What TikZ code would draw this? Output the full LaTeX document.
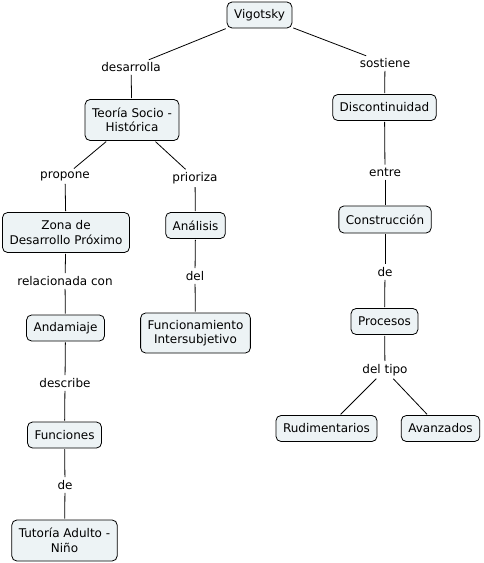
\documentclass[tikz,border=0pt]{standalone}
\usepackage{fontspec}
\setmainfont{DejaVu Sans}
\definecolor{cfill}{HTML}{EDF3F5}
\begin{document}
\begin{tikzpicture}[x=1pt,y=-1pt,
  font=\fontsize{12}{14.5}\selectfont,
  concept/.style={draw=black, line width=0.8pt, fill=cfill, rounded corners=5pt, inner xsep=7pt, inner ysep=3pt, minimum height=26pt, align=center},
  lbl/.style={inner sep=2pt, align=center},
  conn/.style={line width=0.8pt, shorten <=1pt, shorten >=1pt}]
\useasboundingbox (0,0) rectangle (484,563);
% concepts
\node[concept] (vig) at (259.5,15) {Vigotsky};
\node[concept, minimum height=41pt] (teo) at (132,120) {Teoría Socio -\\Histórica};
\node[concept] (dis) at (384.5,107.5) {Discontinuidad};
\node[concept, minimum height=40pt] (zon) at (66,232.5) {Zona de\\Desarrollo Próximo};
\node[concept] (ana) at (195.5,225.5) {Análisis};
\node[concept, minimum height=27pt] (con) at (385,219.5) {Construcción};
\node[concept] (and) at (65.5,328) {Andamiaje};
\node[concept, minimum height=40pt] (fun) at (195.5,333) {Funcionamiento\\Intersubjetivo};
\node[concept] (pro) at (384.5,321.5) {Procesos};
\node[concept] (rud) at (326.5,428.5) {Rudimentarios};
\node[concept] (ava) at (440.5,428.5) {Avanzados};
\node[concept] (fnc) at (64.5,435) {Funciones};
\node[concept, minimum height=41pt] (tut) at (64.5,540.5) {Tutoría Adulto -\\Niño};
% labels
\node[lbl] (l1) at (131,67) {desarrolla};
\node[lbl] (l2) at (385,63) {sostiene};
\node[lbl] (l3) at (65,176) {propone};
\node[lbl] (l4) at (195,178) {prioriza};
\node[lbl] (l5) at (385,172) {entre};
\node[lbl] (l6) at (65,281) {relacionada con};
\node[lbl] (l7) at (195,276) {del};
\node[lbl] (l8) at (385,272) {de};
\node[lbl] (l9) at (65,383) {describe};
\node[lbl] (l10) at (385,370) {del tipo};
\node[lbl] (l11) at (65,485) {de};
% connectors
\draw[conn] (vig) -- (l1);
\draw[conn] (l1) -- (teo);
\draw[conn] (vig) -- (l2);
\draw[conn] (l2) -- (dis);
\draw[conn] (teo) -- (l3);
\draw[conn] (l3) -- (zon);
\draw[conn] (teo) -- (l4);
\draw[conn] (l4) -- (ana);
\draw[conn] (dis) -- (l5);
\draw[conn] (l5) -- (con);
\draw[conn] (zon) -- (l6);
\draw[conn] (l6) -- (and);
\draw[conn] (ana) -- (l7);
\draw[conn] (l7) -- (fun);
\draw[conn] (con) -- (l8);
\draw[conn] (l8) -- (pro);
\draw[conn] (and) -- (l9);
\draw[conn] (l9) -- (fnc);
\draw[conn] (pro) -- (l10);
\draw[conn] (l10) -- (rud);
\draw[conn] (l10) -- (ava);
\draw[conn] (fnc) -- (l11);
\draw[conn] (l11) -- (tut);
\end{tikzpicture}
\end{document}
